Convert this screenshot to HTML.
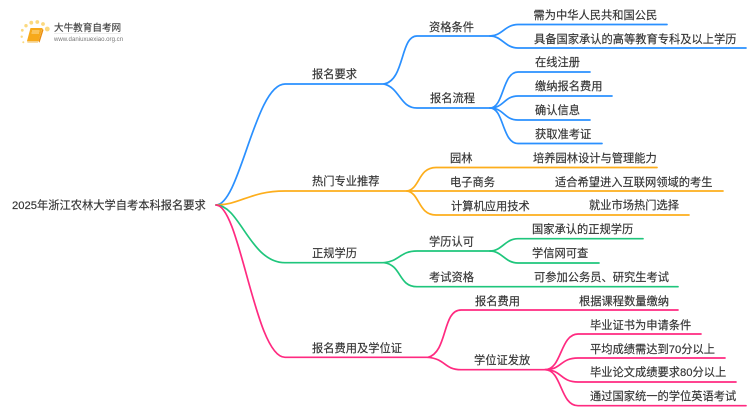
<!DOCTYPE html>
<html lang="zh">
<head>
<meta charset="utf-8">
<style>
html,body{margin:0;padding:0;background:#fff;width:750px;height:410px;overflow:hidden}
svg{display:block}
text{font-family:"Liberation Sans","Noto Sans CJK SC",sans-serif;font-size:11.25px;fill:#333;stroke:#333;stroke-width:.15}
path.l{fill:none;stroke-width:1.7;stroke-linecap:round}
.b{stroke:#2a90ff}.o{stroke:#fdae1c}.g{stroke:#1fc67c}.p{stroke:#ff2a80}
</style>
</head>
<body>
<svg width="750" height="410" viewBox="0 0 750 410" xmlns="http://www.w3.org/2000/svg">
<!-- logo -->
<g>
<g fill="#fbd97f">
<circle cx="47.300" cy="29" r="2.400"/><circle cx="43" cy="24" r="1.900"/><circle cx="37.300" cy="22" r="1.900"/><circle cx="31.300" cy="22.700" r="1.900"/><circle cx="26" cy="25.700" r="1.700"/><circle cx="22.300" cy="30.300" r="1.400"/><circle cx="21.700" cy="36.700" r="1.200"/><circle cx="23.300" cy="42.300" r="1"/>
</g>
<path d="M30.500 28H42.500L38.500 41H27Z" fill="#f7a91b"/>
<path d="M27 41H38.500L38 42.700H27.500Z" fill="#f5d08a"/>
<path d="M42.500 28.500 43.500 30 39.500 42.700 38.500 41Z" fill="#e98d12"/>
<path d="M32 31H39.500M31.500 33H39" stroke="#fff0c8" stroke-width=".7"/>
<text x="54" y="31" style="font-size:9.600px;fill:#444;stroke:#444">大牛教育自考网</text>
<path d="M54 33.500H121" stroke="#ddd" stroke-width=".6"/>
<text x="54" y="41" style="font-size:6.100px;fill:#777;stroke:none">www.daniuxuexiao.org.cn</text>
</g>

<!-- blue -->
<path class="l b" d="M216 205C240 205 255 84 285 84H384"/>
<path class="l b" d="M384 84C405 80 400 36 417 36H490"/>
<path class="l b" d="M384 84C400 88 400 108 417 108H490"/>
<path class="l b" d="M490 36C502 36 505 24.500 518 24.500H667"/>
<path class="l b" d="M490 36C502 36 505 48 518 48H746"/>
<path class="l b" d="M490 108C504 108 502 72 518 72H590"/>
<path class="l b" d="M490 108C504 108 504 96 518 96H612"/>
<path class="l b" d="M490 108C504 108 504 120 518 120H590"/>
<path class="l b" d="M490 108C504 108 502 143.500 518 143.500H602"/>
<!-- orange -->
<path class="l o" d="M216 205C240 205 250 191 285 191H407"/>
<path class="l o" d="M407 191C420 189 418 167.500 436 167.500H657"/>
<path class="l o" d="M407 191H723"/>
<path class="l o" d="M407 191C420 193 418 215 436 215H689"/>
<!-- green -->
<path class="l g" d="M216 205C240 205 250 262.700 285 262.700H384"/>
<path class="l g" d="M384 262.700C400 261 400 251 417 251H490"/>
<path class="l g" d="M384 262.700C402 265 398 286.700 417 286.700H678"/>
<path class="l g" d="M490 251C502 251 505 238.700 518 238.700H643"/>
<path class="l g" d="M490 251C502 251 505 263 518 263H599"/>
<!-- pink -->
<path class="l p" d="M216 205C240 205 255 357.300 285 357.300H428"/>
<path class="l p" d="M428 357.300C448 352 442 310 461 310H678"/>
<path class="l p" d="M428 357.300C446 359 444 369.700 461 369.700H545"/>
<path class="l p" d="M545 369.700C562 369.700 560 334 578 334H701"/>
<path class="l p" d="M545 369.700C562 369.700 560 358 578 358H725"/>
<path class="l p" d="M545 369.700C562 369.700 560 382 578 382H736"/>
<path class="l p" d="M545 369.700C562 369.700 560 405.700 578 405.700H746"/>

<text x="12" y="209">2025年浙江农林大学自考本科报名要求</text>

<text x="312" y="78">报名要求</text>
<text x="429" y="31">资格条件</text>
<text x="430" y="102">报名流程</text>
<text x="533.500" y="19">需为中华人民共和国公民</text>
<text x="534" y="43">具备国家承认的高等教育专科及以上学历</text>
<text x="535" y="66">在线注册</text>
<text x="535" y="90">缴纳报名费用</text>
<text x="535" y="114">确认信息</text>
<text x="535" y="138">获取准考证</text>

<text x="312" y="185">热门专业推荐</text>
<text x="450" y="162">园林</text>
<text x="450" y="186">电子商务</text>
<text x="451" y="210">计算机应用技术</text>
<text x="533" y="162">培养园林设计与管理能力</text>
<text x="555" y="186">适合希望进入互联网领域的考生</text>
<text x="589" y="209">就业市场热门选择</text>

<text x="312" y="257">正规学历</text>
<text x="429" y="245.500">学历认可</text>
<text x="429" y="281">考试资格</text>
<text x="532" y="233">国家承认的正规学历</text>
<text x="532" y="257">学信网可查</text>
<text x="534" y="281">可参加公务员、研究生考试</text>

<text x="312" y="352">报名费用及学位证</text>
<text x="475" y="305">报名费用</text>
<text x="474" y="364">学位证发放</text>
<text x="579" y="305">根据课程数量缴纳</text>
<text x="590" y="329">毕业证书为申请条件</text>
<text x="590" y="353">平均成绩需达到70分以上</text>
<text x="590" y="376">毕业论文成绩要求80分以上</text>
<text x="590" y="400">通过国家统一的学位英语考试</text>
</svg>
</body>
</html>
